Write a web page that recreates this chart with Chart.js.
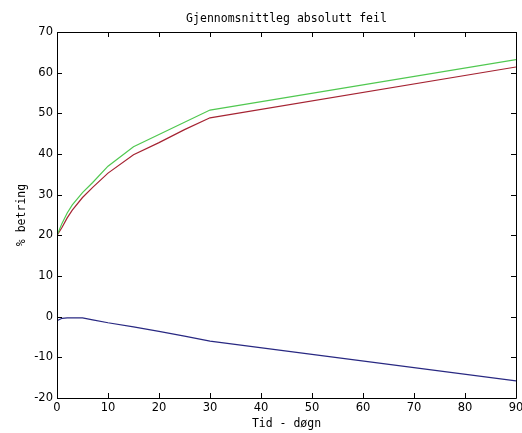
<!DOCTYPE html>
<html>
<head>
<meta charset="utf-8">
<script src="https://cdn.jsdelivr.net/npm/chart.js@4"></script>
<style>
html,body{margin:0;padding:0;background:#fff;}
#wrap{width:522px;height:433px;}
</style>
</head>
<body>
<div id="wrap"><canvas id="c" width="522" height="433"></canvas></div>
<script>
const days = [0, 1, 2, 3, 5, 7, 10, 15, 20, 25, 30, 90];
const greenSeries = [20, 23, 25.5, 27.5, 30.5, 33, 37, 41.8, 44.8, 47.8, 50.8, 63.2];
const redSeries = [20, 22, 24.3, 26.2, 29.3, 31.8, 35.3, 39.8, 42.8, 46, 48.9, 61.4];
const blueSeries = [-1, -0.4, -0.3, -0.3, -0.3, -0.8, -1.5, -2.5, -3.6, -4.8, -6, -15.8];
const xTicks = [0, 10, 20, 30, 40, 50, 60, 70, 80, 90];
const yTicks = [-20, -10, 0, 10, 20, 30, 40, 50, 60, 70];
const titleText = "Gjennomsnittleg absolutt feil";
const xTitle = "Tid - døgn";
const yTitle = "% betring";

function pts(ys){ return days.map((d,i)=>({x:d,y:ys[i]})); }

const boxPlugin = {
  id: 'boxTicks',
  afterDraw(chart){
    const {ctx, chartArea:a, scales} = chart;
    ctx.save();
    ctx.strokeStyle = '#000';
    ctx.lineWidth = 1;
    ctx.beginPath();
    ctx.rect(Math.round(a.left)+0.5, Math.round(a.top)+0.5, Math.round(a.right-a.left), Math.round(a.bottom-a.top));
    ctx.stroke();
    const L = 5;
    ctx.beginPath();
    scales.x.ticks.forEach((t,i)=>{
      const px = Math.round(scales.x.getPixelForTick(i))+0.5;
      ctx.moveTo(px, a.bottom); ctx.lineTo(px, a.bottom-L);
      ctx.moveTo(px, a.top); ctx.lineTo(px, a.top+L);
    });
    scales.y.ticks.forEach((t,i)=>{
      const py = Math.round(scales.y.getPixelForTick(i))+0.5;
      ctx.moveTo(a.left, py); ctx.lineTo(a.left+L, py);
      ctx.moveTo(a.right, py); ctx.lineTo(a.right-L, py);
    });
    ctx.stroke();
    ctx.restore();
  }
};

const tickFont = {family: "'DejaVu Sans', sans-serif", size: 11.5};
const monoFont = {family: "'DejaVu Sans Mono', monospace", size: 11.5, weight: 'normal'};

new Chart(document.getElementById('c'), {
  type: 'line',
  data: {
    datasets: [
      {label:'a', data: pts(greenSeries), borderColor:'rgb(80,200,80)', borderWidth:1.2, pointRadius:0, tension:0},
      {label:'b', data: pts(redSeries), borderColor:'rgb(165,35,50)', borderWidth:1.2, pointRadius:0, tension:0},
      {label:'c', data: pts(blueSeries), borderColor:'rgb(40,40,130)', borderWidth:1.2, pointRadius:0, tension:0}
    ]
  },
  options: {
    responsive: false,
    animation: false,
    devicePixelRatio: 1,
    layout: {padding: {left: 0, right: 6, top: 0, bottom: 0}},
    plugins: {
      legend: {display: false},
      tooltip: {enabled: false},
      title: {display: true, fullSize: false, text: titleText, color: '#000', font: monoFont, padding: {top: 12, bottom: 6.2}}
    },
    scales: {
      x: {
        type: 'linear', min: 0, max: 90,
        afterBuildTicks(s){ s.ticks = xTicks.map(v=>({value:v})); },
        afterFit(s){ s.height = 35; s.paddingLeft = 0; s.paddingRight = 0; },
        ticks: {color:'#000', font: tickFont, padding: 3, maxRotation: 0, autoSkip: false},
        grid: {display: false, drawTicks: false, tickLength: 0},
        border: {display: false},
        title: {display: true, text: xTitle, color:'#000', font: monoFont, padding: {top: 0, bottom: 2}}
      },
      y: {
        type: 'linear', min: -20, max: 70,
        afterBuildTicks(s){ s.ticks = yTicks.map(v=>({value:v})); },
        afterFit(s){ s.width = 57; s.paddingTop = 0; s.paddingBottom = 0; },
        ticks: {color:'#000', font: tickFont, padding: 4},
        grid: {display: false, drawTicks: false, tickLength: 0},
        border: {display: false},
        title: {display: true, text: yTitle, color:'#000', font: monoFont, padding: {top: 15, bottom: 0}}
      }
    }
  },
  plugins: [boxPlugin]
});
</script>
</body>
</html>
